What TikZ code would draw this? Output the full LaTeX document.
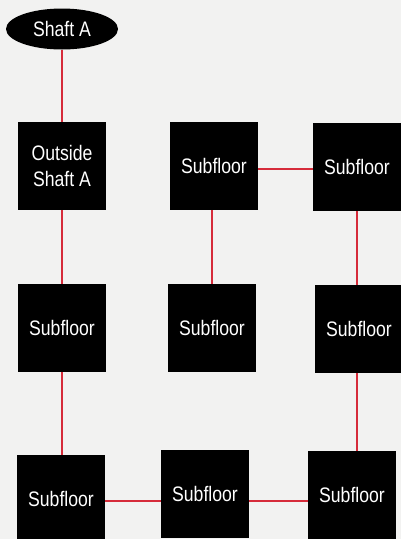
\documentclass[tikz,border=0pt]{standalone}
\usepackage{fontspec}
\setmainfont{Liberation Sans}[FakeStretch=0.84]
\usetikzlibrary{shapes.geometric}
\definecolor{pipered}{RGB}{214,44,58}
\definecolor{paper}{RGB}{242,242,241}
\tikzset{
  floorbox/.style={fill=black,text=white,minimum width=88pt,minimum height=88pt,
    inner sep=0pt,align=center,font=\fontsize{21}{26}\selectfont},
  shaftnode/.style={ellipse,fill=black,text=white,minimum width=112pt,minimum height=41pt,
    inner sep=0pt,font=\fontsize{21}{26}\selectfont},
  pipe/.style={draw=pipered,line width=2pt}
}
\begin{document}
\begin{tikzpicture}[x=1pt,y=-1pt]
\fill[paper] (0,0) rectangle (401,539);
\useasboundingbox (0,0) rectangle (401,539);

\node[shaftnode] (shaft) at (62,29) {Shaft A};
\node[floorbox] (outside) at (62,166) {Outside\\Shaft A};
\node[floorbox] (sub12) at (214,166) {Subfloor};
\node[floorbox] (sub13) at (357,167) {Subfloor};
\node[floorbox] (sub21) at (62,328) {Subfloor};
\node[floorbox] (sub22) at (212,328) {Subfloor};
\node[floorbox] (sub23) at (359,329) {Subfloor};
\node[floorbox] (sub31) at (61,499) {Subfloor};
\node[floorbox] (sub32) at (205,494) {Subfloor};
\node[floorbox] (sub33) at (352,495) {Subfloor};

% red links
\draw[pipe] (shaft) -- (outside);
\draw[pipe] (outside) -- (sub21);
\draw[pipe] (sub21.south) -- (sub21 |- sub31.north);
\draw[pipe] (sub31.east |- 0,501) -- (sub32.west |- 0,501);
\draw[pipe] (sub32.east |- 0,501) -- (sub33.west |- 0,501);
\draw[pipe] (sub23.south -| 357,0) -- (sub33.north -| 357,0);
\draw[pipe] (sub23.north -| 357,0) -- (sub13.south -| 357,0);
\draw[pipe] (sub13.west |- 0,169) -- (sub12.east |- 0,169);
\draw[pipe] (sub12.south -| 212,0) -- (sub22.north -| 212,0);
\end{tikzpicture}
\end{document}
